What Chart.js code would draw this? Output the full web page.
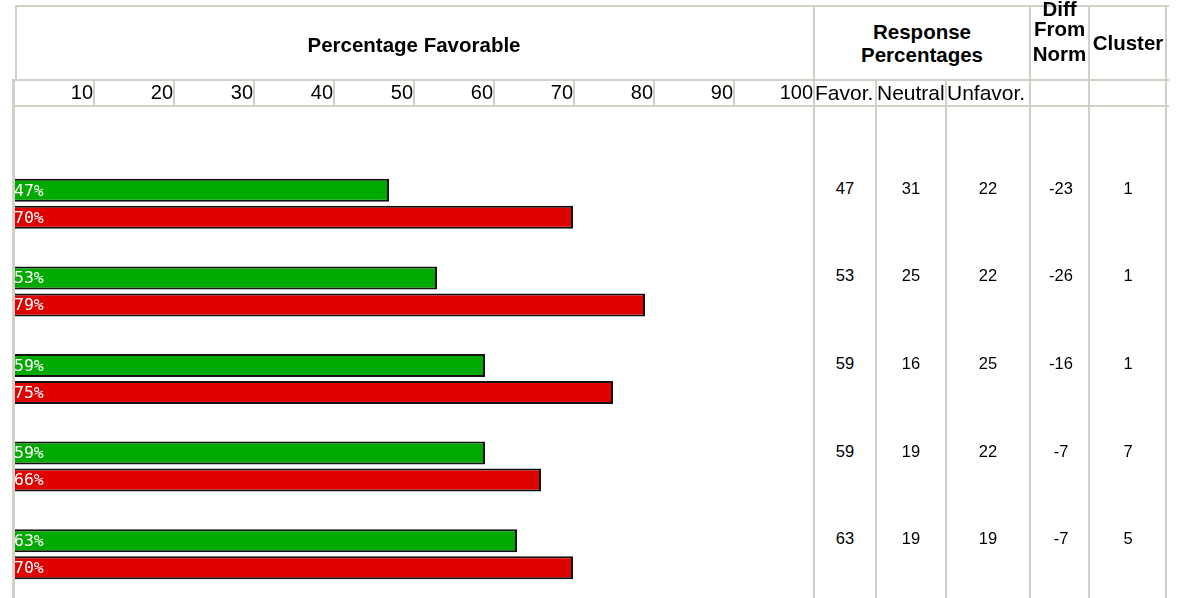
<!DOCTYPE html>
<html>
<head>
<meta charset="utf-8">
<title>Percentage Favorable</title>
<script src="https://cdn.jsdelivr.net/npm/chart.js@4.4.1/dist/chart.umd.min.js"></script>
<style>
  body { margin: 0; background: #fff; font-family: "Liberation Sans", Arial, sans-serif; }
  #page { position: relative; width: 1186px; height: 598px; overflow: hidden; }
  .ln { position: absolute; background: #d4d0c8; z-index: 2; }
  .txt { position: absolute; color: #000; white-space: nowrap; z-index: 3; }
  .hd { font-weight: bold; font-size: 20.5px; text-align: center; line-height: 23px; }
  .sub { font-size: 21px; line-height: 26px; top: 80px; }
  .num { font-size: 16.5px; text-align: center; line-height: 20px; width: 60px; }
  canvas { position: absolute; left: 0; top: 80px; z-index: 1; }
</style>
</head>
<body>
<div id="page">
  <canvas id="chart-favorable" width="813" height="518"></canvas>

  <div class="txt hd" style="left:15px; width:798px; top:33px;">Percentage Favorable</div>
  <div class="txt hd" style="left:815px; width:214px; top:20px;">Response<br>Percentages</div>
  <div class="txt hd" style="left:1031px; width:57px; top:-3px;">Diff</div>
  <div class="txt hd" style="left:1031px; width:57px; top:17px;">From</div>
  <div class="txt hd" style="left:1031px; width:57px; top:42px;">Norm</div>
  <div class="txt hd" style="left:1090px; width:76px; top:31px;">Cluster</div>

  <div class="txt sub" style="left:815px;">Favor.</div>
  <div class="txt sub" style="left:877px;">Neutral</div>
  <div class="txt sub" style="left:947px;">Unfavor.</div>
</div>
<script>
// rows of the chart (no labels shown in the picture)
const items = ['Item 1', 'Item 2', 'Item 3', 'Item 4', 'Item 5'];
const favorable = [47, 53, 59, 59, 63];
const norm = [70, 79, 75, 66, 70];
const neutral = [31, 25, 16, 19, 19];
const unfavorable = [22, 22, 25, 22, 19];
const diffFromNorm = [-23, -26, -16, -7, -7];
const cluster = [1, 1, 1, 7, 5];
const tickValues = [10, 20, 30, 40, 50, 60, 70, 80, 90, 100];

const page = document.getElementById('page');

// table grid lines: left, top, width, height
const lines = [
  [15, 5, 1154, 2], [12, 79, 1157, 2], [12, 105, 1157, 2],
  [15, 5, 2, 76], [12, 79, 3, 519],
  [813, 5, 2, 593], [875, 79, 2, 519], [945, 79, 2, 519],
  [1029, 5, 2, 593], [1088, 5, 2, 593], [1165, 5, 2, 593]
];
lines.forEach(([l, t, w, h]) => {
  const d = document.createElement('div');
  d.className = 'ln';
  d.style.cssText = `left:${l}px;top:${t}px;width:${w}px;height:${h}px;`;
  page.appendChild(d);
});

// cell borders of the tick row, at the scale's tick positions
const tickCells = {
  id: 'tickCells',
  afterDraw(chart) {
    const {ctx, scales: {x}} = chart;
    ctx.save();
    ctx.fillStyle = '#d4d0c8';
    tickValues.slice(0, -1).forEach(v => {
      ctx.fillRect(Math.round(x.getPixelForValue(v)), x.top, 2, 26);
    });
    ctx.restore();
  }
};

// "47%" style labels at the start of each bar
const barLabels = {
  id: 'barLabels',
  afterDatasetsDraw(chart) {
    const {ctx, chartArea} = chart;
    ctx.save();
    ctx.font = '16.5px "DejaVu Sans Mono"';
    ctx.fillStyle = '#fff';
    ctx.textBaseline = 'middle';
    chart.data.datasets.forEach((ds, i) => {
      chart.getDatasetMeta(i).data.forEach((bar, j) => {
        ctx.fillText(ds.data[j] + '%', chartArea.left + 1, bar.y + 1);
      });
    });
    ctx.restore();
  }
};

const chartFavorable = document.getElementById('chart-favorable');

const chart = new Chart(chartFavorable, {
  type: 'bar',
  data: {
    labels: items,
    datasets: [{
      label: 'Favorable',
      data: favorable,
      backgroundColor: '#00aa00',
      borderColor: '#111',
      borderWidth: 2,
      borderSkipped: false
    }, {
      label: 'Norm',
      data: norm,
      backgroundColor: '#e00000',
      borderColor: '#111',
      borderWidth: 2,
      borderSkipped: false
    }]
  },
  options: {
    indexAxis: 'y',
    responsive: false,
    animation: false,
    categoryPercentage: 0.616,
    barPercentage: 0.852,
    layout: { padding: { left: 13, right: 0, top: 0, bottom: 0 } },
    plugins: {
      legend: { display: false },
      tooltip: { enabled: false }
    },
    scales: {
      x: {
        position: 'top',
        min: 0,
        max: 100,
        afterBuildTicks: s => { s.ticks = tickValues.map(v => ({ value: v })); },
        afterFit: s => { s.height = 80; s.paddingLeft = 0; s.paddingRight = 0; },
        grid: { display: false, drawTicks: false },
        border: { display: false },
        ticks: {
          align: 'end',
          padding: 55,
          autoSkip: false,
          maxRotation: 0,
          color: '#000',
          font: { family: '"Liberation Sans", Arial, sans-serif', size: 20 }
        }
      },
      y: { display: false }
    }
  },
  plugins: [tickCells, barLabels]
});

// right-hand table, rows placed on the chart's own row positions
const columns = [
  [favorable, 845], [neutral, 911], [unfavorable, 988], [diffFromNorm, 1061], [cluster, 1128]
];
const yScale = chart.scales.y;
items.forEach((item, i) => {
  const rowY = 80 + yScale.getPixelForValue(i) - 16;
  columns.forEach(([values, cx]) => {
    const d = document.createElement('div');
    d.className = 'txt num';
    d.style.left = (cx - 30) + 'px';
    d.style.top = (rowY - 10) + 'px';
    d.textContent = values[i];
    page.appendChild(d);
  });
});
</script>
</body>
</html>
